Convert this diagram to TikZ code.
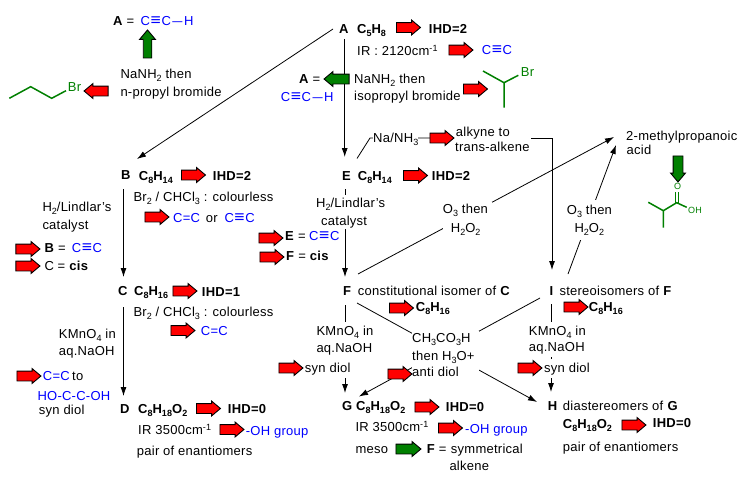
\documentclass[tikz,border=0pt]{standalone}
\usepackage{fontspec}
\usepackage{graphicx}
\setmainfont{Liberation Sans}[LetterSpace=2]
\usetikzlibrary{arrows.meta,shapes.arrows}
\pgfdeclarelayer{bg}
\pgfsetlayers{bg,main}
\definecolor{bl}{RGB}{0,0,255}
\definecolor{gr}{RGB}{0,128,0}
\definecolor{rd}{RGB}{255,0,0}
\newcommand\dn[1]{\raisebox{-3pt}{\fontsize{9}{9}\selectfont #1}}
\newcommand\upp[1]{\raisebox{4pt}{\fontsize{9}{9}\selectfont #1}}
\newcommand\tb{\kern0.6pt\scalebox{1.35}[1.25]{≡}\kern0.6pt}
\newcommand\hy{\kern1.5pt\scalebox{1.4}[1]{–}\kern1.5pt}
\tikzset{
 t/.style={anchor=base west,inner sep=0pt,font=\fontsize{13}{15}\selectfont},
 b/.style={t,text=bl},
 g/.style={t,text=gr},
 c/.style 2 args={t,fill=white,text height=#1,text depth=#2},
 ra/.style={single arrow,draw=black,line width=0.9pt,fill=rd,minimum height=24pt,inner sep=4.5pt,single arrow head extend=2.5pt,single arrow head indent=0pt,single arrow tip angle=80},
 ga/.style={ra,fill=gr,draw=black},
 conn/.style={line width=0.8pt,-{Latex[length=9pt,width=6pt]}},
 plain/.style={line width=0.8pt},
 sk/.style={draw=gr,line width=1.5pt}
}
\begin{document}
\begin{tikzpicture}[x=1pt,y=-1pt]
\useasboundingbox (0,0) rectangle (741,479);
% top left
\node[t] (a1) at (113,25) {\textbf{A} =};
\node[b] (a1s) at (140.5,25) {C\tb C\hy H};
\node[t] (pr1) at (120.3,78) {NaNH\dn{2} then};
\node[t] (pr2) at (120.3,96) {n-propyl bromide};
\node[g] (br1) at (67.7,91.7) {Br};
% A
\node[t] (nA) at (339,33) {\textbf{A}};
\node[t] (fA) at (357,33) {\textbf{C\dn{5}H\dn{8}}};
\node[t] (iA) at (428.7,33) {\textbf{IHD=2}};
\node[t] (irA) at (357,55) {IR : 2120cm\upp{-1}};
\node[b] (cA) at (481.7,54) {C\tb C};
\node[t] (a2) at (299,83) {\textbf{A} =};
\node[b] (a2s) at (280.7,101) {C\tb C\hy H};
\node[t] (is1) at (354,83) {NaNH\dn{2} then};
\node[t] (is2) at (354,100.7) {isopropyl bromide};
\node[g] (br2) at (520.7,76.7) {Br};
% alkyne and acid
\node[c={11pt}{6pt}] (na) at (373,142) {Na/NH\dn{3}};
\node[t] (alk1) at (455.7,136) {alkyne to};
\node[t] (alk2) at (455,151) {trans-alkene};
\node[t] (acid1) at (626,140) {2-methylpropanoic};
\node[t] (acid2) at (626.5,154) {acid};
\node[g,font=\fontsize{9}{9}\selectfont] (oo) at (674,189) {O};
\node[g,font=\fontsize{9}{9}\selectfont] (oh) at (688,213.3) {OH};
% B
\node[t] (nB) at (121,179) {\textbf{B}};
\node[t] (fB) at (138.7,180) {\textbf{C\dn{8}H\dn{14}}};
\node[t] (iB) at (212.7,180) {\textbf{IHD=2}};
\node[t] (brB) at (133.3,201.7) {Br\dn{2} / CHCl\dn{3} : colourless};
\node[b] (cB1) at (173,222) {C=C};
\node[t] (orB) at (205.7,222) {or};
\node[b] (cB2) at (224.3,222) {C\tb C};
\node[t] (li1) at (42.3,211.7) {H\dn{2}/Lindlar's};
\node[t] (li2) at (42.3,229) {catalyst};
\node[t] (eqB) at (44.3,252.7) {\textbf{B} =};
\node[b] (eqBs) at (71.7,252.7) {C\tb C};
\node[t] (eqC) at (44.3,270.7) {C = \textbf{cis}};
% E
\node[t] (nE) at (342,180) {\textbf{E}};
\node[t] (fE) at (357.7,180) {\textbf{C\dn{8}H\dn{14}}};
\node[t] (iE) at (431.7,180) {\textbf{IHD=2}};
\node[c={12pt}{7pt}] (le1) at (316,207) {H\dn{2}/Lindlar's};
\node[c={11.7pt}{3.3pt}] (le2) at (321,225.7) {catalyst};
\node[t] (eqE) at (285,240) {\textbf{E} =};
\node[b] (eqEs) at (309,240) {C\tb C};
\node[t] (eqF) at (286,260.7) {\textbf{F} = \textbf{cis}};
% C
\node[t] (nC) at (118,295.5) {\textbf{C}};
\node[t] (fC) at (134,295.5) {\textbf{C\dn{8}H\dn{16}}};
\node[t] (iC) at (201.7,296.5) {\textbf{IHD=1}};
\node[t] (brC) at (133.3,316) {Br\dn{2} / CHCl\dn{3} : colourless};
\node[b] (cC) at (200.7,335.7) {C=C};
\node[t] (km1) at (58.7,338) {KMnO\dn{4} in};
\node[t] (km2) at (58.7,355.7) {aq.NaOH};
\node[b] (to1) at (42.7,380.7) {C=C};
\node[t] (to2) at (72,380.7) {to};
\node[b] (ho) at (37.3,400) {HO-C-C-OH};
\node[t] (sy) at (38.7,414) {syn diol};
% D
\node[t] (nD) at (120,413) {\textbf{D}};
\node[t] (fD) at (138,413) {\textbf{C\dn{8}H\dn{18}O\dn{2}}};
\node[t] (iD) at (227.7,413) {\textbf{IHD=0}};
\node[t] (irD) at (138,434) {IR 3500cm\upp{-1}};
\node[b] (ohD) at (245.7,435) {-OH group};
\node[t] (peD) at (136.7,455) {pair of enantiomers};
% F
\node[t] (nF) at (343,295.5) {\textbf{F}};
\node[t] (isoF) at (357.7,295.5) {constitutional isomer of \textbf{C}};
\node[t] (fF) at (415.7,311.7) {\textbf{C\dn{8}H\dn{16}}};
\node[c={13pt}{5pt}] (kf1) at (316.3,335) {KMnO\dn{4} in};
\node[c={12.7pt}{7pt}] (kf2) at (316.3,352.7) {aq.NaOH};
\node[c={12.6pt}{5.7pt}] (kf3) at (304.7,372.3) {syn diol};
% peracid
\node[c={11.7pt}{7pt}] (pa1) at (412,342.7) {\makebox[67pt][l]{CH\dn{3}CO\dn{3}H}};
\node[c={11pt}{7pt}] (pa2) at (412,360.7) {\makebox[67pt][l]{then H\dn{3}O+}};
\node[c={9pt}{1.3pt}] (pa3) at (412,376.7) {\makebox[67pt][l]{anti diol}};
% ozone
\node[c={11pt}{7pt}] (oz1) at (442.7,213.3) {\makebox[49pt][l]{O\dn{3} then}};
\node[c={12pt}{1pt}] (oz2) at (442.7,232) {\makebox[49pt][l]{\hspace{8pt}H\dn{2}O\dn{2}}};
\node[c={14pt}{6pt}] (oy1) at (566.7,214) {\makebox[45pt][l]{O\dn{3} then}};
\node[c={12pt}{8pt}] (oy2) at (566.7,232) {\makebox[45pt][l]{\hspace{7.6pt}H\dn{2}O\dn{2}}};
% I
\node[t] (nI) at (549.3,295) {\textbf{I}};
\node[t] (stI) at (559.3,295) {stereoisomers of \textbf{F}};
\node[t] (fI) at (588.7,311.7) {\textbf{C\dn{8}H\dn{16}}};
\node[c={13pt}{5pt}] (ki1) at (528.7,335) {KMnO\dn{4} in};
\node[c={11.7pt}{5pt}] (ki2) at (528.7,351.7) {aq.NaOH};
\node[c={13pt}{5.7pt}] (ki3) at (544,372) {syn diol};
% G
\node[t] (nG) at (342,410) {\textbf{G}};
\node[t] (fG) at (356,410) {\textbf{C\dn{8}H\dn{18}O\dn{2}}};
\node[t] (iG) at (445.7,411.5) {\textbf{IHD=0}};
\node[t] (irG) at (355.3,431.7) {IR 3500cm\upp{-1}};
\node[b] (ohG) at (465,433) {-OH group};
\node[t] (me) at (355.3,453.3) {meso};
\node[t] (eqF2) at (426.7,453.3) {\textbf{F} =};
\node[t] (sym) at (450.7,453.3) {symmetrical};
\node[t] (alke) at (449.3,470.7) {alkene};
% H
\node[t] (nH) at (547.7,410) {\textbf{H}};
\node[t] (diaH) at (562.7,410) {diastereomers of \textbf{G}};
\node[t] (fH) at (562.7,428.3) {\textbf{C\dn{8}H\dn{18}O\dn{2}}};
\node[t] (iH) at (652.7,427.7) {\textbf{IHD=0}};
\node[t] (peH) at (562.7,451.7) {pair of enantiomers};
% block arrows
\node[ga,minimum height=28pt,inner sep=3.8pt,single arrow head extend=3.6pt,rotate=90] (g1) at (147.5,46.5) {};
\node[ra,rotate=180] (r1) at (99,91) {};
\node[ga,minimum height=25pt,rotate=180] (g2) at (339.5,79) {};
\node[ga,minimum height=26pt,rotate=-90] (g3) at (678,166) {};
\node[ga,minimum height=25pt] (g4) at (405.5,449) {};
\foreach \nm/\xx/\yy in {r2/405.5/27.5,r3/458/50,r4/472.5/89,r5/439/138,r6/412.5/175.5,r7/190.5/175,r8/154/217,r9/268/238,r10/25/249,r11/25/266,r12/269/257,r13/182/291,r14/180/330.5,r15/26/376,r16/205.5/408.5,r17/229/429.5,r18/288/368,r19/398.5/308,r20/573/307,r21/397/374,r22/527/368,r23/424/407,r24/447.5/428,r25/631/425}
  \node[ra] (\nm) at (\xx,\yy) {};
% skeletal formulae
\draw[sk] (9.3,98.3) -- (30.7,86.7) -- (51.7,98.3) -- (66,90.7);
\draw[sk] (483,71) -- (504,82.7) -- (518.3,75.3) (504,82.7) -- (504,107.7);
\draw[sk] (648.3,202.3) -- (663.3,210.7) -- (676.7,202.7) -- (686.7,207.3) (663.3,210.7) -- (663.3,227.7);
\draw[draw=gr,line width=1pt] (675,192) -- (675,203) (678,192) -- (678,203);
% connectors
\begin{pgfonlayer}{bg}
\fill[white] (0,0) rectangle (741,479);
\draw[conn] ([shift={(-6,-4)}]nA.base west) -- ([shift={(16,-20)}]nB.base west);
\draw[conn] ([shift={(5.7,6)}]nA.base west) -- ([shift={(2.7,-23)}]nE.base west);
\draw[conn] ([shift={(2.5,10)}]nB.base west) -- ([shift={(5.5,-18.5)}]nC.base west);
\draw[conn] ([shift={(5.5,11.5)}]nC.base west) -- ([shift={(3.5,-17)}]nD.base west);
\draw[conn] ([shift={(3,9)}]nE.base west) -- ([shift={(2,-18.5)}]nF.base west);
\draw[conn] ([shift={(2,9.5)}]nF.base west) -- ([shift={(3,-17)}]nG.base west);
\draw[conn] ([shift={(76,-13)}]alk2.base west) -| ([shift={(2.7,-25)}]nI.base west);
\draw[conn] ([shift={(1.7,9)}]nI.base west) -- ([shift={(3.3,-18)}]nH.base west);
\draw[plain] ([shift={(15,-21.5)}]nE.base west) -- ([shift={(28,-42)}]nE.base west) -- ([shift={(-15.7,2)}]alk1.base west);
\draw[conn] ([shift={(15,-21.5)}]nF.base west) -- ([shift={(-12,-3)}]acid1.base west);
\draw[conn] ([shift={(18.7,-21)}]nI.base west) -- ([shift={(-10,5)}]acid1.base west);
\draw[conn] ([shift={(14,7.5)}]nF.base west) -- ([shift={(-10.7,-8)}]nH.base west);
\draw[conn] ([shift={(-9.3,3)}]nI.base west) -- ([shift={(17,-13.5)}]nG.base west);
\end{pgfonlayer}
\end{tikzpicture}
\end{document}
